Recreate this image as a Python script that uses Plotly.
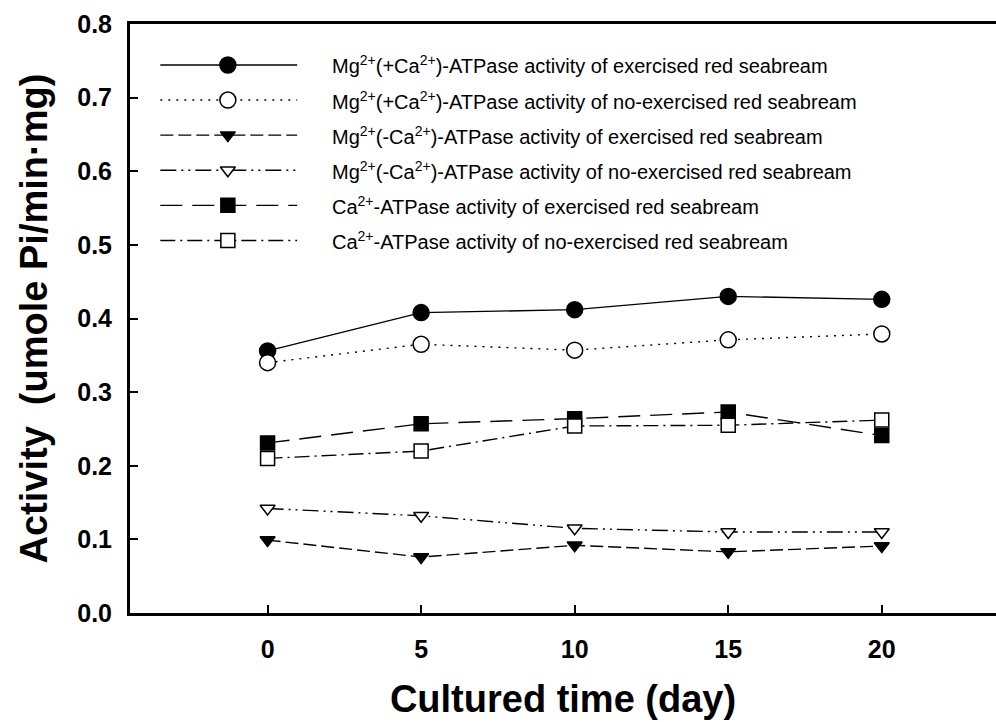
import plotly.graph_objects as go

# ---------------- data ----------------
days = [0, 5, 10, 15, 20]

mg_ca_ex = [0.356, 0.408, 0.412, 0.430, 0.426]
mg_ca_noex = [0.340, 0.365, 0.357, 0.371, 0.379]
mg_noca_ex = [0.099, 0.076, 0.092, 0.083, 0.091]
mg_noca_noex = [0.142, 0.132, 0.115, 0.110, 0.110]
ca_ex = [0.231, 0.257, 0.264, 0.273, 0.241]
ca_noex = [0.210, 0.220, 0.254, 0.255, 0.262]

series_names = [
    "Mg<sup>2+</sup>(+Ca<sup>2+</sup>)-ATPase activity of exercised red seabream",
    "Mg<sup>2+</sup>(+Ca<sup>2+</sup>)-ATPase activity of no-exercised red seabream",
    "Mg<sup>2+</sup>(-Ca<sup>2+</sup>)-ATPase activity of exercised red seabream",
    "Mg<sup>2+</sup>(-Ca<sup>2+</sup>)-ATPase activity of no-exercised red seabream",
    "Ca<sup>2+</sup>-ATPase activity of exercised red seabream",
    "Ca<sup>2+</sup>-ATPase activity of no-exercised red seabream",
]
series_values = [mg_ca_ex, mg_ca_noex, mg_noca_ex, mg_noca_noex, ca_ex, ca_noex]

y_ticks = [0.0, 0.1, 0.2, 0.3, 0.4, 0.5, 0.6, 0.7, 0.8]
x_ticks = [0, 5, 10, 15, 20]

x_title = "Cultured time (day)"
y_title = "Activity  (umole Pi/min·mg)"

# ---------------- styles ----------------
FONT = "Arial, Liberation Sans, sans-serif"
styles = [
    dict(dash="solid", symbol="circle", fill="black", size=16),
    dict(dash="2px,6px", symbol="circle", fill="white", size=16),
    dict(dash="13px,5px", symbol="triangle-down", fill="black", size=13),
    dict(dash="16px,5px,2px,5px,2px,5px", symbol="triangle-down", fill="white", size=13),
    dict(dash="22px,10px", symbol="square", fill="black", size=14),
    dict(dash="15px,5px,2px,5px", symbol="square", fill="white", size=14),
]

fig = go.Figure()

for name, vals, st in zip(series_names, series_values, styles):
    fig.add_trace(go.Scatter(
        x=days, y=vals, mode="lines+markers", name=name, showlegend=False,
        line=dict(color="black", width=1.4, dash=st["dash"]),
        marker=dict(symbol=st["symbol"], size=st["size"], color=st["fill"],
                    line=dict(color="black", width=1.5)),
    ))

# ---------------- custom legend (overlay axes in fractional units) ----------------
L_X0, L_X1, L_XM = 0.035, 0.193, 0.113
L_TEXT_X = 0.231
L_Y0, L_DY = 0.9305, 0.0596

for i, (name, st) in enumerate(zip(series_names, styles)):
    yy = L_Y0 - i * L_DY
    fig.add_trace(go.Scatter(
        x=[L_X0, L_X1], y=[yy, yy], mode="lines", xaxis="x2", yaxis="y2",
        showlegend=False, hoverinfo="skip",
        line=dict(color="black", width=1.4, dash=st["dash"]),
    ))
    fig.add_trace(go.Scatter(
        x=[L_XM], y=[yy], mode="markers", xaxis="x2", yaxis="y2",
        showlegend=False, hoverinfo="skip",
        marker=dict(symbol=st["symbol"], size=st["size"], color=st["fill"],
                    line=dict(color="black", width=1.5)),
    ))
    fig.add_annotation(
        x=L_TEXT_X, y=yy, xref="x2", yref="y2", text=name, showarrow=False,
        xanchor="left", yanchor="middle",
        font=dict(family=FONT, size=20, color="black"),
    )

# y-axis title as a rotated annotation (to place it closer to the page edge)
fig.add_annotation(
    x=-0.112, y=0.5, xref="paper", yref="paper", text=y_title, showarrow=False,
    textangle=-90, xanchor="center", yanchor="middle",
    font=dict(family=FONT, size=38, weight="bold", color="black"),
)

fig.update_layout(
    width=996, height=722,
    margin=dict(l=130, r=0, t=24, b=109),
    paper_bgcolor="white", plot_bgcolor="white",
    showlegend=False,
    font=dict(family=FONT, color="black"),
    xaxis=dict(
        range=[-4.48, 23.72], tickvals=x_ticks, ticktext=[str(v) for v in x_ticks],
        ticks="inside", ticklen=8, tickwidth=2, tickcolor="black",
        showline=True, linewidth=3, linecolor="black", mirror=True,
        showgrid=False, zeroline=False,
        tickfont=dict(family=FONT, size=25, weight="bold"),
        ticklabelstandoff=12,
        title=dict(text=x_title, font=dict(family=FONT, size=38, weight="bold"), standoff=24),
    ),
    yaxis=dict(
        range=[0, 0.8], tickvals=y_ticks, tickformat=".1f",
        ticks="inside", ticklen=8, tickwidth=2, tickcolor="black",
        showline=True, linewidth=3, linecolor="black", mirror=False,
        showgrid=False, zeroline=False,
        tickfont=dict(family=FONT, size=25, weight="bold"),
        ticklabelstandoff=10,
    ),
    xaxis2=dict(overlaying="x", anchor="y2", range=[0, 1], visible=False,
                showgrid=False, zeroline=False),
    yaxis2=dict(overlaying="y", anchor="x2", range=[0, 1], visible=False,
                showgrid=False, zeroline=False),
)

fig.write_html("out.html")
